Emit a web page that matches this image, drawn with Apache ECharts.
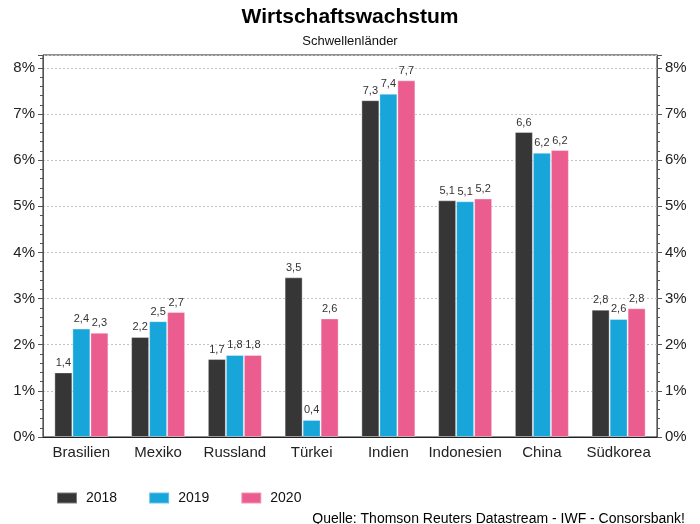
<!DOCTYPE html>
<html><head><meta charset="utf-8">
<script src="https://cdn.jsdelivr.net/npm/echarts@6/dist/echarts.min.js"></script>
<style>html,body{margin:0;padding:0;background:#fff}#c{width:700px;height:524px}</style>
</head><body><div id="c"></div>
<script>
var categories = ['Brasilien','Mexiko','Russland','Türkei','Indien','Indonesien','China','Südkorea'];
var years = ['2018','2019','2020'];
var v2018 = [1.40, 2.17, 1.69, 3.46, 7.30, 5.13, 6.61, 2.76];
var v2019 = [2.35, 2.51, 1.78, 0.37, 7.44, 5.11, 6.16, 2.56];
var v2020 = [2.26, 2.71, 1.78, 2.57, 7.73, 5.17, 6.22, 2.79];
var yTicks = [0,1,2,3,4,5,6,7,8];
var colors = ['#363636','#17a5da','#ec5d8f'];
var FONT = 'Liberation Sans, Arial, sans-serif';

var chart = echarts.init(document.getElementById('c'), null, {renderer:'canvas'});
function yAxisCfg(pos){
  return {
    type:'value', position:pos, min:0, max:8.28, interval:1,
    axisLine:{show:true, lineStyle:{color:'#555', width:1}},
    axisTick:{show:true, length:5, lineStyle:{color:'#555'}},
    minorTick:{show:true, splitNumber:5, length:3, lineStyle:{color:'#555'}},
    splitLine:{show: pos==='left', lineStyle:{color:'#c4c4c4', type:[2,2], width:1}},
    axisLabel:{fontFamily:FONT, fontSize:15, color:'#222', margin:8,
      formatter:function(v){ return yTicks.indexOf(Math.round(v*1000)/1000)>=0 ? v+'%' : ''; }}
  };
}
function mk(name, data, i){
  return {
    name:name, type:'bar', data:data, barWidth:18, barGap:'0%',
    itemStyle:{color:colors[i], borderColor:'rgba(255,255,255,0.35)', borderWidth:1},
    label:{show:true, position:'top', distance:4, fontFamily:FONT, fontSize:11, color:'#333',
      formatter:function(p){ return p.value.toFixed(1).replace('.',','); }}
  };
}
chart.setOption({
  animation:false,
  backgroundColor:'#fff',
  title:[
    {text:'Wirtschaftswachstum', left:'center', top:2, textStyle:{fontFamily:FONT, fontSize:21, fontWeight:'bold', color:'#000'}},
    {text:'Schwellenländer', left:'center', top:30, textStyle:{fontFamily:FONT, fontSize:13, fontWeight:'normal', color:'#111'}},
    {text:'Quelle: Thomson Reuters Datastream - IWF - Consorsbank!', right:10, top:507, textStyle:{fontFamily:FONT, fontSize:14, fontWeight:'normal', color:'#000'}}
  ],
  legend:{left:56, top:491, padding:0, itemWidth:20, itemHeight:11, itemGap:31, icon:'rect',
    textStyle:{fontFamily:FONT, fontSize:14, color:'#111', padding:[0,0,0,4]}, data:years},
  grid:{left:43, right:43, top:55, bottom:87, show:true, borderColor:'#222', borderWidth:1, backgroundColor:'transparent'},
  xAxis:{type:'category', data:categories,
    axisLine:{lineStyle:{color:'#222'}},
    axisTick:{alignWithLabel:true, length:4, lineStyle:{color:'#666'}},
    axisLabel:{interval:0, fontFamily:FONT, fontSize:15, color:'#222', margin:8}},
  yAxis:[yAxisCfg('left'), yAxisCfg('right')],
  series:[mk('2018', v2018, 0), mk('2019', v2019, 1), mk('2020', v2020, 2)]
});
</script></body></html>
